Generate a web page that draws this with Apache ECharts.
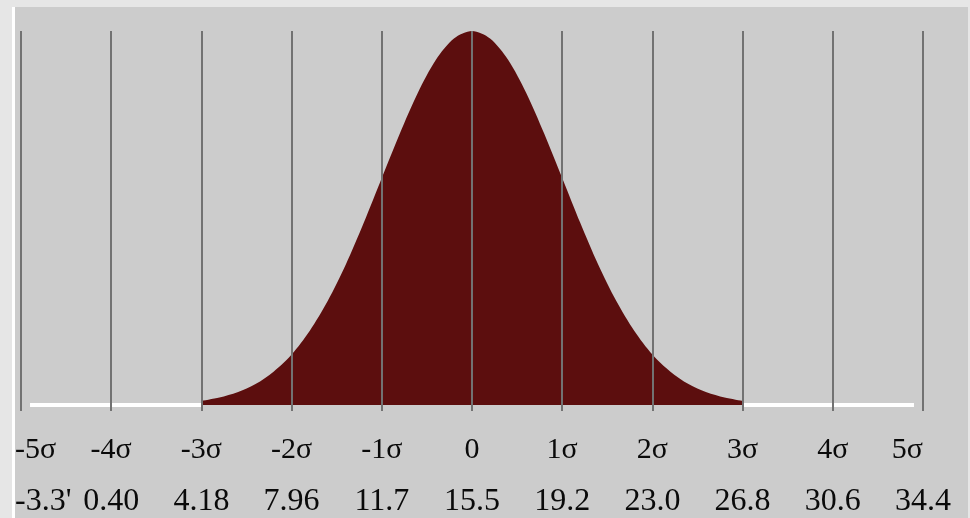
<!DOCTYPE html>
<html>
<head>
<meta charset="utf-8">
<script src="https://cdn.jsdelivr.net/npm/echarts@6/dist/echarts.min.js"></script>
<style>
  html, body { margin: 0; padding: 0; background: #e6e6e6; }
  #wrap { position: relative; width: 970px; height: 518px; background: #e6e6e6; overflow: hidden; }
  #panel { position: absolute; left: 12px; top: 7px; width: 956px; height: 511px; background: #cccccc; border-left: 3px solid #ffffff; box-sizing: border-box; }
  #chart { position: absolute; left: 0; top: 0; width: 970px; height: 518px; }
</style>
</head>
<body>
<div id="wrap">
  <div id="panel"></div>
  <div id="chart"></div>
</div>
<script>
// Tick labels (two rows)
const sigmaLabels = ['-5σ', '-4σ', '-3σ', '-2σ', '-1σ', '0', '1σ', '2σ', '3σ', '4σ', '5σ'];
const valueLabels = ["-3.3'", '0.40', '4.18', '7.96', '11.7', '15.5', '19.2', '23.0', '26.8', '30.6', '34.4'];

// Curve samples: position (in σ) and relative height (peak = 1)
const curveX = [-3.0, -2.8, -2.6, -2.4, -2.2, -2.0, -1.8, -1.6, -1.4, -1.2, -1.0, -0.8, -0.6, -0.4, -0.2, 0,
                0.2, 0.4, 0.6, 0.8, 1.0, 1.2, 1.4, 1.6, 1.8, 2.0, 2.2, 2.4, 2.6, 2.8, 3.0];
const curveY = [0.011, 0.020, 0.034, 0.056, 0.089, 0.135, 0.198, 0.278, 0.375, 0.487, 0.607, 0.726, 0.835, 0.923, 0.980, 1.000,
                0.980, 0.923, 0.835, 0.726, 0.607, 0.487, 0.375, 0.278, 0.198, 0.135, 0.089, 0.056, 0.034, 0.020, 0.011];

// White baseline segments outside the filled region
const leftBaseX = [-4.9, -3.0];
const rightBaseX = [3.0, 4.9];

const chart = echarts.init(document.getElementById('chart'), null, { renderer: 'canvas' });

const labelFont = 'Liberation Serif, Times New Roman, serif';

function labelAxis(grid, labels, margin, size, opts) {
  return Object.assign({
    type: 'value', gridIndex: grid, min: -5, max: 5, interval: 1, position: 'bottom',
    axisLine: { show: false }, splitLine: { show: false }, axisTick: { show: false },
    axisLabel: {
      margin: margin, fontFamily: labelFont, fontSize: size, color: '#0a0a0a',
      alignMinLabel: 'left', alignMaxLabel: opts.alignMax || 'center',
      formatter: function (v) {
        const i = Math.round(v) + 5;
        if (opts.onlyFirst) return i === 0 ? labels[i] : '';
        return i === 0 ? '' : labels[i];
      }
    }
  }, opts.extra || {});
}

chart.setOption({
  backgroundColor: 'transparent',
  animation: false,
  grid: [
    { left: 21, right: 47, top: 31, bottom: 113 },
    { left: 15, right: 47, top: 31, bottom: 113 }
  ],
  xAxis: [
    labelAxis(0, sigmaLabels, 30, 30, {
      alignMax: 'right',
      extra: {
        z: 10,
        splitLine: { show: true, lineStyle: { color: '#727272', width: 2 } },
        axisTick: { show: true, length: 6, lineStyle: { color: '#727272', width: 2 } }
      }
    }),
    labelAxis(0, valueLabels, 81, 32, {}),
    labelAxis(1, sigmaLabels, 30, 30, { onlyFirst: true }),
    labelAxis(1, valueLabels, 81, 32, { onlyFirst: true })
  ],
  yAxis: [
    { type: 'value', gridIndex: 0, min: 0, max: 1, show: false },
    { type: 'value', gridIndex: 1, min: 0, max: 1, show: false }
  ],
  series: [
    {
      type: 'line',
      data: curveX.map((x, i) => [x, curveY[i]]),
      smooth: 0.3,
      symbol: 'none',
      lineStyle: { width: 0 },
      areaStyle: { color: '#5c0e0e', opacity: 1 },
      z: 2
    },
    {
      type: 'line',
      data: leftBaseX.map(x => [x, 0]),
      symbol: 'none',
      lineStyle: { color: '#ffffff', width: 4 },
      z: 3
    },
    {
      type: 'line',
      data: rightBaseX.map(x => [x, 0]),
      symbol: 'none',
      lineStyle: { color: '#ffffff', width: 4 },
      z: 3
    }
  ]
});
</script>
</body>
</html>
